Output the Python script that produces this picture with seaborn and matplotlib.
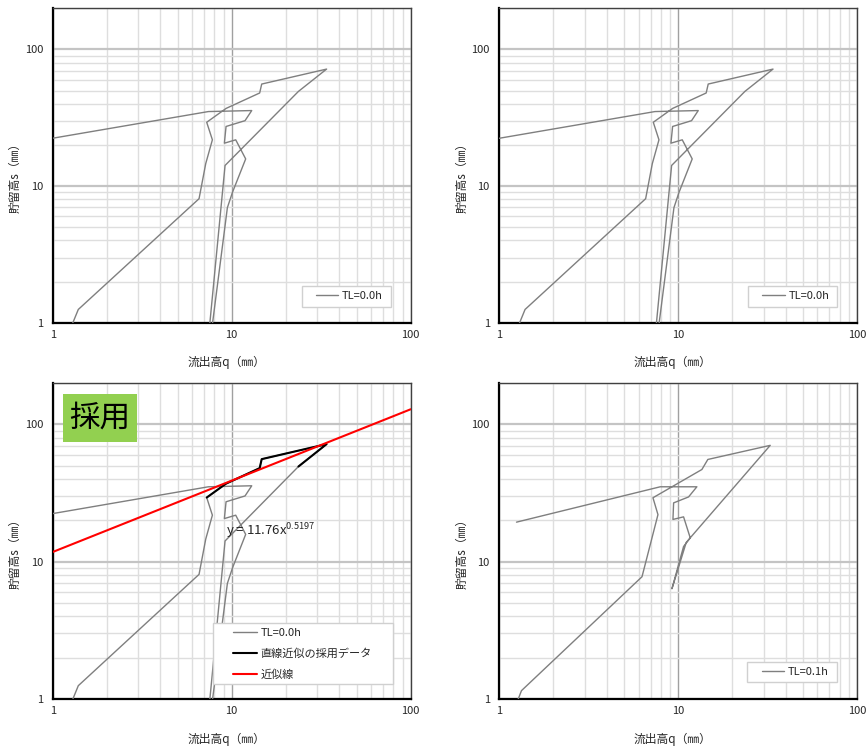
import numpy as np
import pandas as pd
import matplotlib
matplotlib.use("Agg")
import matplotlib.pyplot as plt
import seaborn as sns
from matplotlib.ticker import FixedLocator, FuncFormatter, NullFormatter
from matplotlib.patches import Rectangle
from matplotlib.lines import Line2D

# ---- data: outflow depth q (mm) vs storage depth s (mm), in time order ----
q_tl00 = [1.25, 1.39, 6.57, 7.16, 7.80, 7.25, 9.30, 14.33, 14.71, 33.9, 23.6,
          9.18, 6.80, 9.46, 10.1, 11.97, 10.53, 9.10, 9.30, 11.87, 12.94, 7.41, 0.80]
s_tl00 = [0.89, 1.25, 8.08, 14.6, 21.8, 29.3, 37.0, 48.0, 55.8, 71.8, 49.3,
          14.15, 0.24, 6.95, 9.0, 15.8, 21.8, 20.6, 27.3, 30.1, 35.7, 35.1, 21.3]

# points used for the straight-line (power) fit
adopt_slice = slice(5, 11)
q_adopt = q_tl00[adopt_slice]
s_adopt = s_tl00[adopt_slice]

q_tl01 = [1.25, 1.327, 6.27, 7.70, 7.22, 13.56, 14.64, 32.7, 11.08, 9.22,
          10.71, 11.67, 10.71, 9.34, 9.42, 11.42, 12.71, 7.93, 1.245]
s_tl01 = [0.94, 1.15, 7.77, 22.0, 29.2, 46.9, 55.5, 70.3, 13.8, 6.35,
          12.9, 14.9, 21.2, 20.3, 26.8, 29.6, 35.1, 35.1, 19.4]

fit_coef = 11.76
fit_exp = 0.5197
fit_q = [1, 100]

major_ticks = [1, 10, 100]
label_tl00 = "TL=0.0h"
label_tl01 = "TL=0.1h"
label_adopt = "直線近似の採用データ"
label_fit = "近似線"
xlabel = "流出高q（㎜）"
ylabel = "貯留高s（㎜）"
badge = "採用"

sns.set_style("white")
plt.rcParams["font.family"] = ["Noto Sans CJK JP", "DejaVu Sans"]
plt.rcParams["axes.unicode_minus"] = False

W, H = 867, 749
fig = plt.figure(figsize=(W / 100, H / 100), dpi=100)
fig.patch.set_facecolor("white")


def px_axes(left, top, right, bottom):
    return fig.add_axes([left / W, 1 - bottom / H, (right - left) / W, (bottom - top) / H])


GRAY = "#7f7f7f"


def style_axes(ax):
    ax.set_xscale("log")
    ax.set_yscale("log")
    ax.set_xlim(1, 100)
    ax.set_ylim(1, 200)
    ax.xaxis.set_major_locator(FixedLocator(major_ticks))
    ax.yaxis.set_major_locator(FixedLocator(major_ticks))
    minors = [m * 10 ** e for e in range(0, 3) for m in range(2, 10)]
    ax.xaxis.set_minor_locator(FixedLocator([v for v in minors if v < 100]))
    ax.yaxis.set_minor_locator(FixedLocator([v for v in minors if v <= 200]))
    fmt = FuncFormatter(lambda v, p: f"{v:g}")
    ax.xaxis.set_major_formatter(fmt)
    ax.yaxis.set_major_formatter(fmt)
    ax.xaxis.set_minor_formatter(NullFormatter())
    ax.yaxis.set_minor_formatter(NullFormatter())
    ax.grid(which="minor", axis="both", color="#dedede", lw=1.0, zorder=0)
    ax.grid(which="major", axis="x", color="#a0a0a0", lw=1.0, zorder=0)
    ax.grid(which="major", axis="y", color="#c4c4c4", lw=1.6, zorder=0)
    ax.set_axisbelow(True)
    ax.tick_params(which="both", length=0)
    ax.tick_params(axis="y", pad=7, labelsize=8)
    ax.tick_params(axis="x", pad=5, labelsize=8)
    for side in ["left", "bottom"]:
        ax.spines[side].set_color("black")
        ax.spines[side].set_linewidth(1.6)
    for side in ["top", "right"]:
        ax.spines[side].set_color("#404040")
        ax.spines[side].set_linewidth(1.0)
    ax.set_xlabel(xlabel, fontsize=8.5)
    ax.set_ylabel(ylabel, fontsize=8.5)


def draw_series(ax, q, s, color, lw, label):
    df = pd.DataFrame({"q": q, "s": s})
    sns.lineplot(data=df, x="q", y="s", sort=False, estimator=None,
                 color=color, lw=lw, ax=ax, legend=False, zorder=3)
    return Line2D([], [], color=color, lw=lw, label=label)


def boxed_legend(ax, handles, box, handle_x, handlelength=2.0, labelspacing=0.93):
    """Legend framed by a fixed rectangle (axes fraction: x0, y0, x1, y1)."""
    x0, y0, x1, y1 = box
    ax.add_patch(Rectangle((x0, y0), x1 - x0, y1 - y0, transform=ax.transAxes,
                           facecolor="white", edgecolor="#d0d0d0", lw=1.0, zorder=4.5))
    leg = ax.legend(handles=handles, loc="center left",
                    bbox_to_anchor=(handle_x, (y0 + y1) / 2), borderaxespad=0,
                    borderpad=0, fontsize=8, frameon=False, handlelength=handlelength,
                    handletextpad=0.35, labelspacing=labelspacing)
    leg.set_zorder(5)
    return leg


# top-left and top-right: TL=0.0h
for left, right in [(52.7, 410.7), (499.5, 857)]:
    ax = px_axes(left, 8.3, right, 322.7)
    style_axes(ax)
    h = draw_series(ax, q_tl00, s_tl00, GRAY, 1.0, label_tl00)
    boxed_legend(ax, [h], (0.6955, 0.0509, 0.944, 0.1167), 0.7355)
    ax.yaxis.set_label_coords(-0.087, 0.47)
    ax.xaxis.set_label_coords(0.484, -0.105)

# bottom-left: TL=0.0h with adopted points and fitted power curve
ax = px_axes(52.7, 383, 410.7, 699)
style_axes(ax)
h1 = draw_series(ax, q_tl00, s_tl00, GRAY, 1.0, label_tl00)
h2 = draw_series(ax, q_adopt, s_adopt, "black", 1.5, label_adopt)
fit_s = [fit_coef * v ** fit_exp for v in fit_q]
h3 = draw_series(ax, fit_q, fit_s, "#ff0000", 1.5, label_fit)
boxed_legend(ax, [h1, h2, h3], (0.4486, 0.0475, 0.9497, 0.2396), 0.5045,
             handlelength=2.1)
ax.text(0.483, 0.532, f"y = {fit_coef:.2f}x$^{{\\mathregular{{{fit_exp:.4f}}}}}$",
        transform=ax.transAxes, fontsize=9.5, va="center", ha="left", color="#262626", zorder=5)
ax.add_patch(Rectangle((0.0296, 0.814), 0.205, 0.151, transform=ax.transAxes,
                       facecolor="#92d050", edgecolor="none", zorder=6))
ax.text(0.132, 0.889, badge, transform=ax.transAxes, fontsize=22, ha="center",
        va="center", color="black", zorder=7)
ax.yaxis.set_label_coords(-0.087, 0.467)
ax.xaxis.set_label_coords(0.484, -0.108)

# bottom-right: TL=0.1h
ax = px_axes(499.5, 383, 857, 699)
style_axes(ax)
h = draw_series(ax, q_tl01, s_tl01, GRAY, 1.0, label_tl01)
boxed_legend(ax, [h], (0.693, 0.0528, 0.943, 0.118), 0.733)
ax.yaxis.set_label_coords(-0.087, 0.467)
ax.xaxis.set_label_coords(0.484, -0.108)

fig.savefig("out.png", dpi=100, facecolor="white")
